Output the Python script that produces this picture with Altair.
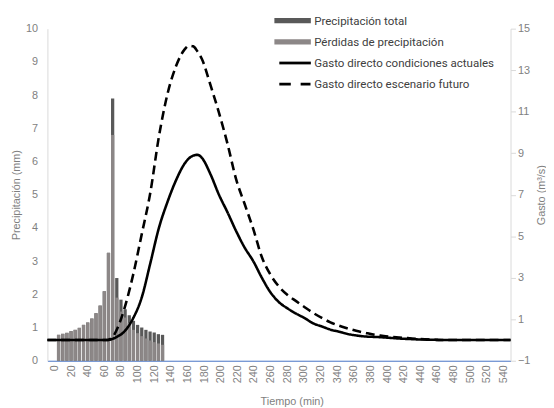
import altair as alt
import pandas as pd

# ---------------- data ----------------
bar_time = list(range(5, 131, 5))
precip_total = [0.78, 0.81, 0.84, 0.89, 0.93, 0.99, 1.08, 1.15, 1.27, 1.43, 1.66, 2.09, 3.25,
                7.9, 2.49, 1.84, 1.55, 1.37, 1.2, 1.08, 1.0, 0.93, 0.88, 0.85, 0.8, 0.78]
precip_losses = [0.78, 0.81, 0.84, 0.89, 0.93, 0.99, 1.08, 1.15, 1.27, 1.43, 1.66, 2.09, 3.25,
                 6.8, 1.9, 1.48, 1.3, 1.13, 0.93, 0.83, 0.74, 0.67, 0.61, 0.56, 0.52, 0.48]

q_time = [0, 10, 20, 30, 40, 50, 60, 70, 75, 80, 90, 100, 110, 120, 130, 140, 150, 160, 165, 170,
          175, 180, 190, 200, 210, 220, 230, 240, 250, 260, 270, 280, 290, 300, 310, 320, 330,
          340, 350, 360, 370, 380, 390, 400, 410, 420, 430, 440, 450, 460, 470, 480, 490, 500,
          510, 520, 530, 540]
q_actual = [0, 0, 0, 0, 0, 0, 0, 0, 0.04, 0.13, 0.42, 1.05, 2.05, 3.7, 5.4, 6.65, 7.7, 8.5, 8.75, 8.88,
            8.92, 8.78, 8.0, 7.0, 6.15, 5.25, 4.45, 3.8, 3.0, 2.3, 1.82, 1.52, 1.27, 1.05, 0.8, 0.65, 0.5,
            0.4, 0.29, 0.22, 0.17, 0.15, 0.13, 0.1, 0.07, 0.05, 0.03, 0.02, 0.01, 0, 0, 0, 0, 0,
            0, 0, 0, 0]
q_future = [0, 0, 0, 0, 0, 0, 0, 0, 0.09, 0.42, 1.55, 3.15, 5.1, 7.1, 9.8, 11.85, 13.2, 14.0, 14.18, 14.15,
            13.9, 13.55, 12.3, 10.95, 9.45, 7.75, 6.55, 5.35, 4.0, 3.15, 2.57, 2.17, 1.87, 1.58, 1.3, 1.06, 0.85,
            0.69, 0.56, 0.44, 0.35, 0.26, 0.2, 0.15, 0.12, 0.09, 0.06, 0.03, 0.01, 0, 0, 0, 0, 0,
            0, 0, 0, 0]

x_ticks = list(range(0, 541, 20))
left_ticks = list(range(0, 11))
right_ticks = list(range(-1, 16, 2))

series = ["Precipitación total", "Pérdidas de precipitación",
          "Gasto directo condiciones actuales", "Gasto directo escenario futuro"]
series_colors = ["#595959", "#8c8787", "#000000", "#000000"]
legend_shapes = [
    "M-3.7,-0.52L3.7,-0.52L3.7,0.52L-3.7,0.52Z",
    "M-3.7,-0.52L3.7,-0.52L3.7,0.52L-3.7,0.52Z",
    "M-2.7,-0.28L3.7,-0.28L3.7,0.28L-2.7,0.28Z",
    "M-2.7,-0.28L-0.37,-0.28L-0.37,0.28L-2.7,0.28Z M1.63,-0.28L3.63,-0.28L3.63,0.28L1.63,0.28Z",
]

# ---------------- tables ----------------
total_df = pd.DataFrame({"t": bar_time, "v": precip_total})
loss_df = pd.DataFrame({"t": bar_time, "v": precip_losses})
q_df = pd.DataFrame({
    "t": q_time + q_time,
    "q": q_actual + q_future,
    "serie": [series[2]] * len(q_time) + [series[3]] * len(q_time),
})
leg_df = pd.DataFrame({"serie": series})

GRAY = "#7f7f7f"
AXIS_FONT = "Liberation Sans"

x_bar = alt.X("t:Q", scale=alt.Scale(domain=[-2.5, 542.5], nice=False, zero=False),
              axis=alt.Axis(values=x_ticks, labelAngle=-90, title="Tiempo (min)", ticks=False,
                            domainColor="#4472c4", labelPadding=4, titlePadding=13, titleX=248,
                            labelFlush=False, labelOverlap=False, grid=False))
y_left = alt.Y("v:Q", scale=alt.Scale(domain=[0, 10], nice=False),
               axis=alt.Axis(values=left_ticks, title="Precipitación (mm)", ticks=False,
                             domainColor="#d9d9d9", labelPadding=10, titlePadding=4, grid=False))

bars_total = alt.Chart(total_df).mark_bar(size=3.3, color=series_colors[0]).encode(x=x_bar, y=y_left)
bars_loss = alt.Chart(loss_df).mark_bar(size=3.3, color=series_colors[1]).encode(x=x_bar, y=y_left)
bars = alt.layer(bars_total, bars_loss)

lines = alt.Chart(q_df).mark_line(color="#000000", strokeWidth=2.6, interpolate="monotone").encode(
    x=alt.X("t:Q", scale=alt.Scale(domain=[0, 540], nice=False, zero=False), axis=None),
    y=alt.Y("q:Q", scale=alt.Scale(domain=[-1, 15], nice=False),
            axis=alt.Axis(orient="right", values=right_ticks, title="Gasto (m³/s)",
                          tickSize=5, tickColor="#d9d9d9", domainColor="#d9d9d9",
                          labelPadding=2, titlePadding=6, titleAngle=270,
                          titleBaseline="top", grid=False)),
    strokeDash=alt.StrokeDash("serie:N", scale=alt.Scale(domain=series[2:], range=[[1, 0], [9, 5]]),
                              legend=None),
    detail="serie:N",
)

legend = alt.Legend(title=None, orient="none", legendX=243, legendY=-14, symbolSize=100,
                    symbolStrokeWidth=0, symbolOpacity=1, labelFont="Roboto", labelFontSize=11.7,
                    labelColor="#404040", labelLimit=300, rowPadding=8.5, labelOffset=16, padding=0)
legend_layer = alt.Chart(leg_df).mark_point(opacity=0, filled=True).encode(
    color=alt.Color("serie:N", scale=alt.Scale(domain=series, range=series_colors), legend=legend),
    shape=alt.Shape("serie:N", scale=alt.Scale(domain=series, range=legend_shapes), legend=legend),
)

chart = alt.layer(bars, lines, legend_layer).resolve_scale(
    x="independent", y="independent"
).properties(
    width=470, height=337,
    padding={"left": 40, "top": 18, "right": 36, "bottom": 45},
    autosize=alt.AutoSizeParams(type="none"),
).configure_view(stroke=None).configure_axis(
    labelFont=AXIS_FONT, labelFontSize=11, labelColor=GRAY,
    titleFont=AXIS_FONT, titleFontSize=11, titleColor=GRAY, titleFontWeight="normal",
)

chart.save("out.html", embed_options={"renderer": "svg", "actions": False})
